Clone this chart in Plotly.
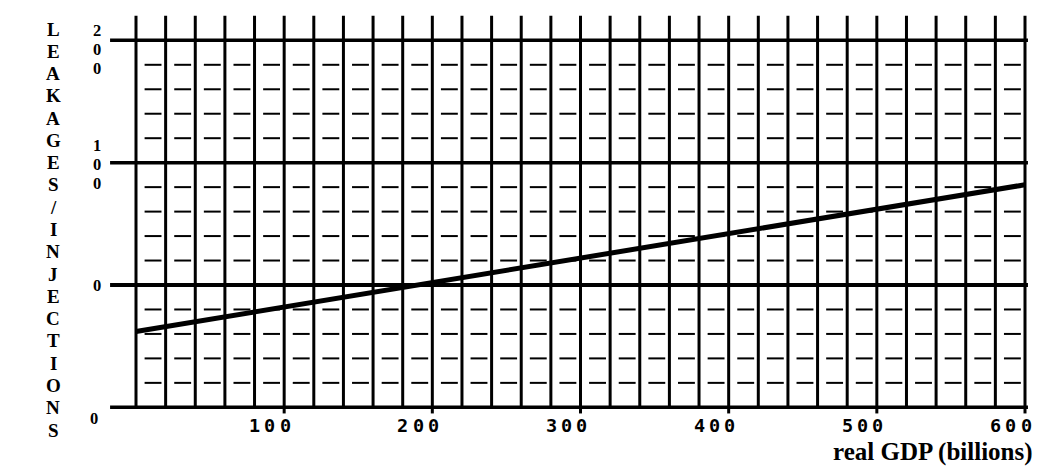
import plotly.graph_objects as go

# ---------------- data ----------------
gdp = [0, 600]                 # real GDP (billions)
leak_inj = [-38, 82]           # leakages / injections
x_ticks = [100, 200, 300, 400, 500, 600]
x_tick_labels = ["100", "200", "300", "400", "500", "600"]
y_ticks = [200, 100, 0, -100]
y_tick_labels = ["200", "100", "0", "0"]
y_title = "LEAKAGES/INJECTIONS"
x_title = "real GDP (billions)"

# ---------------- geometry ----------------
OFF = 8                        # page body margin
W, H = 1064 - OFF, 474 - OFF   # figure size
X0_PX, SX = 136.0 - OFF, 889.0 / 600.0   # pixel of x=0, px per unit
Y0_PX, SY = 285.0 - OFF, 367.0 / 300.0   # pixel of y=0, px per unit
x_range = [-X0_PX / SX, (W - X0_PX) / SX]
y_range = [(Y0_PX - H) / SY, Y0_PX / SY]


def xp(px):   # reference pixel -> paper x
    return (px - OFF) / W


def yp(py):   # reference pixel -> paper y
    return 1 - (py - OFF) / H


x_grid = list(range(0, 601, 20))
y_minor = [180, 160, 140, 120, 80, 60, 40, 20, -20, -40, -60, -80]

fig = go.Figure()

# short dashes in each cell
dx, dy = [], []
for yv in y_minor:
    for i in range(len(x_grid) - 1):
        a = x_grid[i]
        dx += [a + 5.8, a + 17.2, None]
        dy += [yv, yv, None]
fig.add_trace(go.Scatter(x=dx, y=dy, mode="lines",
                         line=dict(color="black", width=2),
                         hoverinfo="skip", showlegend=False))

# data line
fig.add_trace(go.Scatter(x=gdp, y=leak_inj, mode="lines",
                         line=dict(color="black", width=5),
                         showlegend=False))

shapes = []
for xv in x_grid:
    shapes.append(dict(type="line", x0=xv, x1=xv, y0=-100, y1=220,
                       line=dict(color="black", width=3), layer="below"))
for xv in x_ticks:
    shapes.append(dict(type="line", x0=xv, x1=xv, y0=-105, y1=-100,
                       line=dict(color="black", width=3), layer="below"))
for yv in y_ticks:
    shapes.append(dict(type="line", x0=-17.5, x1=602, y0=yv, y1=yv,
                       line=dict(color="black", width=4 if yv == 0 else 3.5),
                       layer="below"))

ann = []
# x tick labels: digits spread out, last digit centred on tick
for xv, lab in zip(x_ticks, x_tick_labels):
    n = len(lab)
    for k, ch in enumerate(lab):
        ann.append(dict(x=xv, y=-100, xref="x", yref="y", text=ch,
                        showarrow=False, xanchor="center", yanchor="middle",
                        xshift=(k - n + 1) * 15.2 + 1, yshift=-18,
                        font=dict(family="DejaVu Sans Mono", size=18.5,
                                  color="black", weight="bold")))

# y tick labels: stacked digits
center_shift = [9.5, 2, 0, 11.5]
x_px = [97, 97, 97, 94]
for yv, lab, cs, xpx in zip(y_ticks, y_tick_labels, center_shift, x_px):
    n = len(lab)
    for k, ch in enumerate(lab):
        off = cs + (k - (n - 1) / 2) * 19
        ann.append(dict(x=xp(xpx), y=yv, xref="paper", yref="y", text=ch,
                        showarrow=False, xanchor="center", yanchor="middle",
                        yshift=-off,
                        font=dict(family="Liberation Serif", size=16.5,
                                  color="black", weight="bold")))

# y title: stacked letters
step = (430 - 29) / (len(y_title) - 1)
for k, ch in enumerate(y_title):
    ann.append(dict(x=xp(53), y=yp(29 + step * k), xref="paper",
                    yref="paper", text=ch, showarrow=False,
                    xanchor="center", yanchor="middle",
                    font=dict(family="Liberation Serif", size=19,
                              color="black", weight="bold")))

# x title
ann.append(dict(x=xp(1035), y=yp(452), xref="paper", yref="paper",
                text=x_title, showarrow=False, xanchor="right",
                yanchor="middle",
                font=dict(family="Liberation Serif", size=25, color="black",
                          weight="bold")))

fig.update_layout(
    width=W, height=H,
    margin=dict(l=0, r=0, t=0, b=0),
    paper_bgcolor="white", plot_bgcolor="white",
    xaxis=dict(range=x_range, visible=False, fixedrange=True),
    yaxis=dict(range=y_range, visible=False, fixedrange=True),
    shapes=shapes, annotations=ann, showlegend=False,
)

fig.write_html("out.html")
